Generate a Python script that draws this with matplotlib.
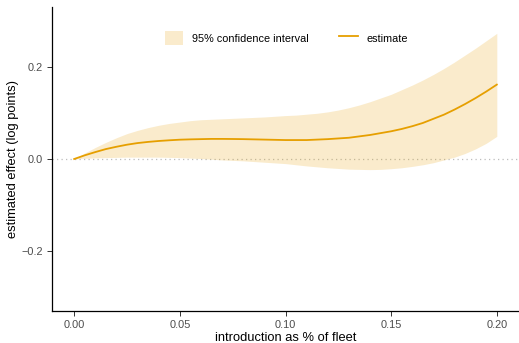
import numpy as np
import matplotlib
matplotlib.use("Agg")
import matplotlib.pyplot as plt
from matplotlib.patches import Patch
from matplotlib.lines import Line2D

plt.rcParams['font.family'] = ['Liberation Sans', 'DejaVu Sans']

# share of fleet (x) and the fitted effect with its 95% band
share = [0.000, 0.005, 0.010, 0.015, 0.020, 0.025, 0.030, 0.035, 0.040, 0.045,
         0.050, 0.055, 0.060, 0.065, 0.070, 0.075, 0.080, 0.085, 0.090, 0.095,
         0.100, 0.105, 0.110, 0.115, 0.120, 0.125, 0.130, 0.135, 0.140, 0.145,
         0.150, 0.155, 0.160, 0.165, 0.170, 0.175, 0.180, 0.185, 0.190, 0.195,
         0.200]
estimate = [0.000, 0.008, 0.015, 0.0215, 0.0265, 0.031, 0.0345, 0.037, 0.039, 0.0405,
            0.0418, 0.0425, 0.043, 0.0435, 0.0435, 0.0433, 0.043, 0.0425, 0.042, 0.0415,
            0.041, 0.041, 0.041, 0.042, 0.043, 0.0445, 0.046, 0.049, 0.052, 0.056,
            0.060, 0.065, 0.071, 0.078, 0.087, 0.096, 0.107, 0.119, 0.132, 0.146,
            0.161]
upper = [0.000, 0.013, 0.025, 0.036, 0.046, 0.055, 0.062, 0.068, 0.073, 0.077,
         0.080, 0.083, 0.085, 0.086, 0.087, 0.088, 0.089, 0.090, 0.091, 0.0925,
         0.094, 0.095, 0.097, 0.099, 0.102, 0.106, 0.111, 0.117, 0.124, 0.132,
         0.140, 0.150, 0.160, 0.171, 0.183, 0.196, 0.210, 0.225, 0.240, 0.256,
         0.272]
lower = [0.000, 0.0015, 0.0025, 0.003, 0.0035, 0.004, 0.004, 0.004, 0.004, 0.0035,
         0.003, 0.002, 0.001, -0.0005, -0.002, -0.003, -0.004, -0.0055, -0.007, -0.0085,
         -0.010, -0.0125, -0.015, -0.017, -0.019, -0.0205, -0.022, -0.0225, -0.023, -0.0225,
         -0.021, -0.019, -0.016, -0.0125, -0.008, -0.002, 0.004, 0.012, 0.022, 0.034,
         0.049]

x_ticks = [0.00, 0.05, 0.10, 0.15, 0.20]
x_tick_labels = ["0.00", "0.05", "0.10", "0.15", "0.20"]
y_ticks = [-0.2, 0.0, 0.2]
y_tick_labels = ["\u22120.2", "0.0", "0.2"]

orange = "#E69F00"

fig = plt.figure(figsize=(5.19, 3.43), dpi=100)
ax = fig.add_axes([52 / 519, 1 - 311 / 343, 1 - 52 / 519, (311 - 7) / 343])

ax.axhline(0, color="#BDBDBD", linestyle=(0, (1, 2.6)), linewidth=0.9, zorder=1)
ax.fill_between(share, lower, upper, color=orange, alpha=0.2, linewidth=0, zorder=2)
ax.plot(share, estimate, color=orange, linewidth=1.3, zorder=3)

ax.set_xlim(-0.0105, 0.2105)
ax.set_ylim(-0.329, 0.329)
ax.set_xticks(x_ticks)
ax.set_xticklabels(x_tick_labels)
ax.set_yticks(y_ticks)
ax.set_yticklabels(y_tick_labels)

for side in ("top", "right"):
    ax.spines[side].set_visible(False)
for side in ("left", "bottom"):
    ax.spines[side].set_linewidth(0.9)
    ax.spines[side].set_color("black")

ax.tick_params(axis="both", length=3.5, width=0.7, color="#333333",
               labelcolor="#4D4D4D", labelsize=7.9, pad=3)

ax.set_xlabel("introduction as % of fleet", fontsize=9.3, labelpad=1.2)
ax.set_ylabel("estimated effect (log points)", fontsize=9.3, labelpad=1.5)

handles = [Patch(facecolor=orange, alpha=0.2, edgecolor="none"),
           Line2D([0], [0], color=orange, linewidth=1.3)]
ax.legend(handles, ["95% confidence interval", "estimate"], ncol=2, frameon=False,
          loc="center", bbox_to_anchor=(0.502, 0.898), fontsize=7.8,
          handlelength=1.7, handleheight=1.7, handletextpad=0.8, columnspacing=2.8)

fig.savefig("out.png", dpi=100)
